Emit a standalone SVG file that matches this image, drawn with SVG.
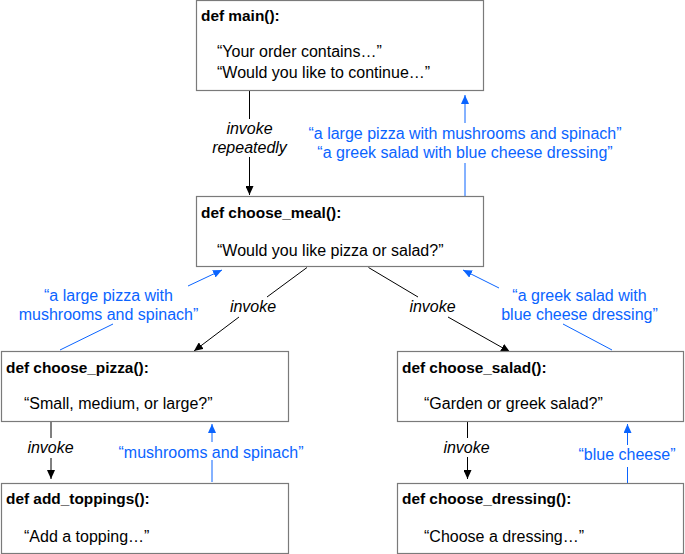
<svg xmlns="http://www.w3.org/2000/svg" width="685" height="554" viewBox="0 0 685 554">
<style>
.box{fill:#fff;stroke:#7a7a7a;stroke-width:1.2}
.title{font-family:"Liberation Sans",Arial,sans-serif;font-weight:bold;font-size:15.4px;fill:#000}
.body{font-family:"Liberation Sans",Arial,sans-serif;font-size:16px;fill:#000}
.elabel{font-family:"Liberation Sans",Arial,sans-serif;font-style:italic;font-size:16px;fill:#000;text-anchor:middle}
.blabel{font-family:"Liberation Sans",Arial,sans-serif;font-size:16px;fill:#0a64ff;text-anchor:middle}
.call{fill:none;stroke:#000;stroke-width:1;marker-end:url(#ab)}
.ret{fill:none;stroke:#0a64ff;stroke-width:1;marker-end:url(#au)}
</style>
<defs>
<marker id="ab" markerUnits="userSpaceOnUse" markerWidth="9" markerHeight="8" refX="9" refY="4" orient="auto"><path d="M0,0 L9,4 L0,8 z" fill="#000"/></marker>
<marker id="au" markerUnits="userSpaceOnUse" markerWidth="9" markerHeight="8" refX="9" refY="4" orient="auto"><path d="M0,0 L9,4 L0,8 z" fill="#0a64ff"/></marker>
</defs>
<rect width="685" height="554" fill="#fff"/>
<g id="connectors">
<path class="call" d="M249.5,90 L249.5,119 M249.5,157 L249.5,195"/>
<text class="elabel" x="249.5" y="134">invoke</text>
<text class="elabel" x="249.5" y="153">repeatedly</text>
<path class="ret" d="M465,196 L465,163 M465,123 L465,95"/>
<text class="blabel" x="465" y="139">“a large pizza with mushrooms and spinach”</text>
<text class="blabel" x="465" y="158">“a greek salad with blue cheese dressing”</text>
<path class="call" d="M307,267.5 L267,297 M239,317 L194,351"/>
<text class="elabel" x="253" y="312">invoke</text>
<path class="ret" d="M60,350 L113,324 M188,286 L222,270"/>
<text class="blabel" x="108.5" y="301">“a large pizza with</text>
<text class="blabel" x="108.5" y="320">mushrooms and spinach”</text>
<path class="call" d="M368.5,267.5 L418,297 M448,317 L510,352"/>
<text class="elabel" x="432.5" y="312">invoke</text>
<path class="ret" d="M612,350 L563,324 M499,288 L463,270"/>
<text class="blabel" x="579.5" y="301">“a greek salad with</text>
<text class="blabel" x="579.5" y="320">blue cheese dressing”</text>
<path class="call" d="M51,422 L51,438 M51,458 L51,479"/>
<text class="elabel" x="50.5" y="453">invoke</text>
<path class="ret" d="M212,482 L212,460 M212,442 L212,424"/>
<text class="blabel" x="211" y="458">“mushrooms and spinach”</text>
<path class="call" d="M467.5,422 L467.5,438 M467.5,457 L467.5,479"/>
<text class="elabel" x="466.5" y="453">invoke</text>
<path class="ret" d="M627.5,483 L627.5,467 M627.5,445 L627.5,424"/>
<text class="blabel" x="627" y="460">“blue cheese”</text>
</g>
<g id="main">
<rect class="box" x="196.5" y="0.5" width="287" height="90"/>
<text class="title" x="201" y="21">def main():</text>
<text class="body" x="217" y="57">“Your order contains…”</text>
<text class="body" x="217" y="78">“Would you like to continue…”</text>
</g>
<g id="choose_meal">
<rect class="box" x="196.5" y="196.5" width="287" height="70"/>
<text class="title" x="201" y="218">def choose_meal():</text>
<text class="body" x="217" y="256">“Would you like pizza or salad?”</text>
</g>
<g id="choose_pizza">
<rect class="box" x="1.5" y="351.5" width="287" height="70"/>
<text class="title" x="6" y="373">def choose_pizza():</text>
<text class="body" x="24" y="409">“Small, medium, or large?”</text>
</g>
<g id="add_toppings">
<rect class="box" x="1.5" y="483.5" width="287" height="70"/>
<text class="title" x="6" y="504">def add_toppings():</text>
<text class="body" x="24" y="542">“Add a topping…”</text>
</g>
<g id="choose_salad">
<rect class="box" x="397.5" y="351.5" width="286" height="70"/>
<text class="title" x="402" y="373">def choose_salad():</text>
<text class="body" x="424" y="409">“Garden or greek salad?”</text>
</g>
<g id="choose_dressing">
<rect class="box" x="397.5" y="483.5" width="286" height="70"/>
<text class="title" x="402" y="504">def choose_dressing():</text>
<text class="body" x="424" y="542">“Choose a dressing…”</text>
</g>
</svg>
